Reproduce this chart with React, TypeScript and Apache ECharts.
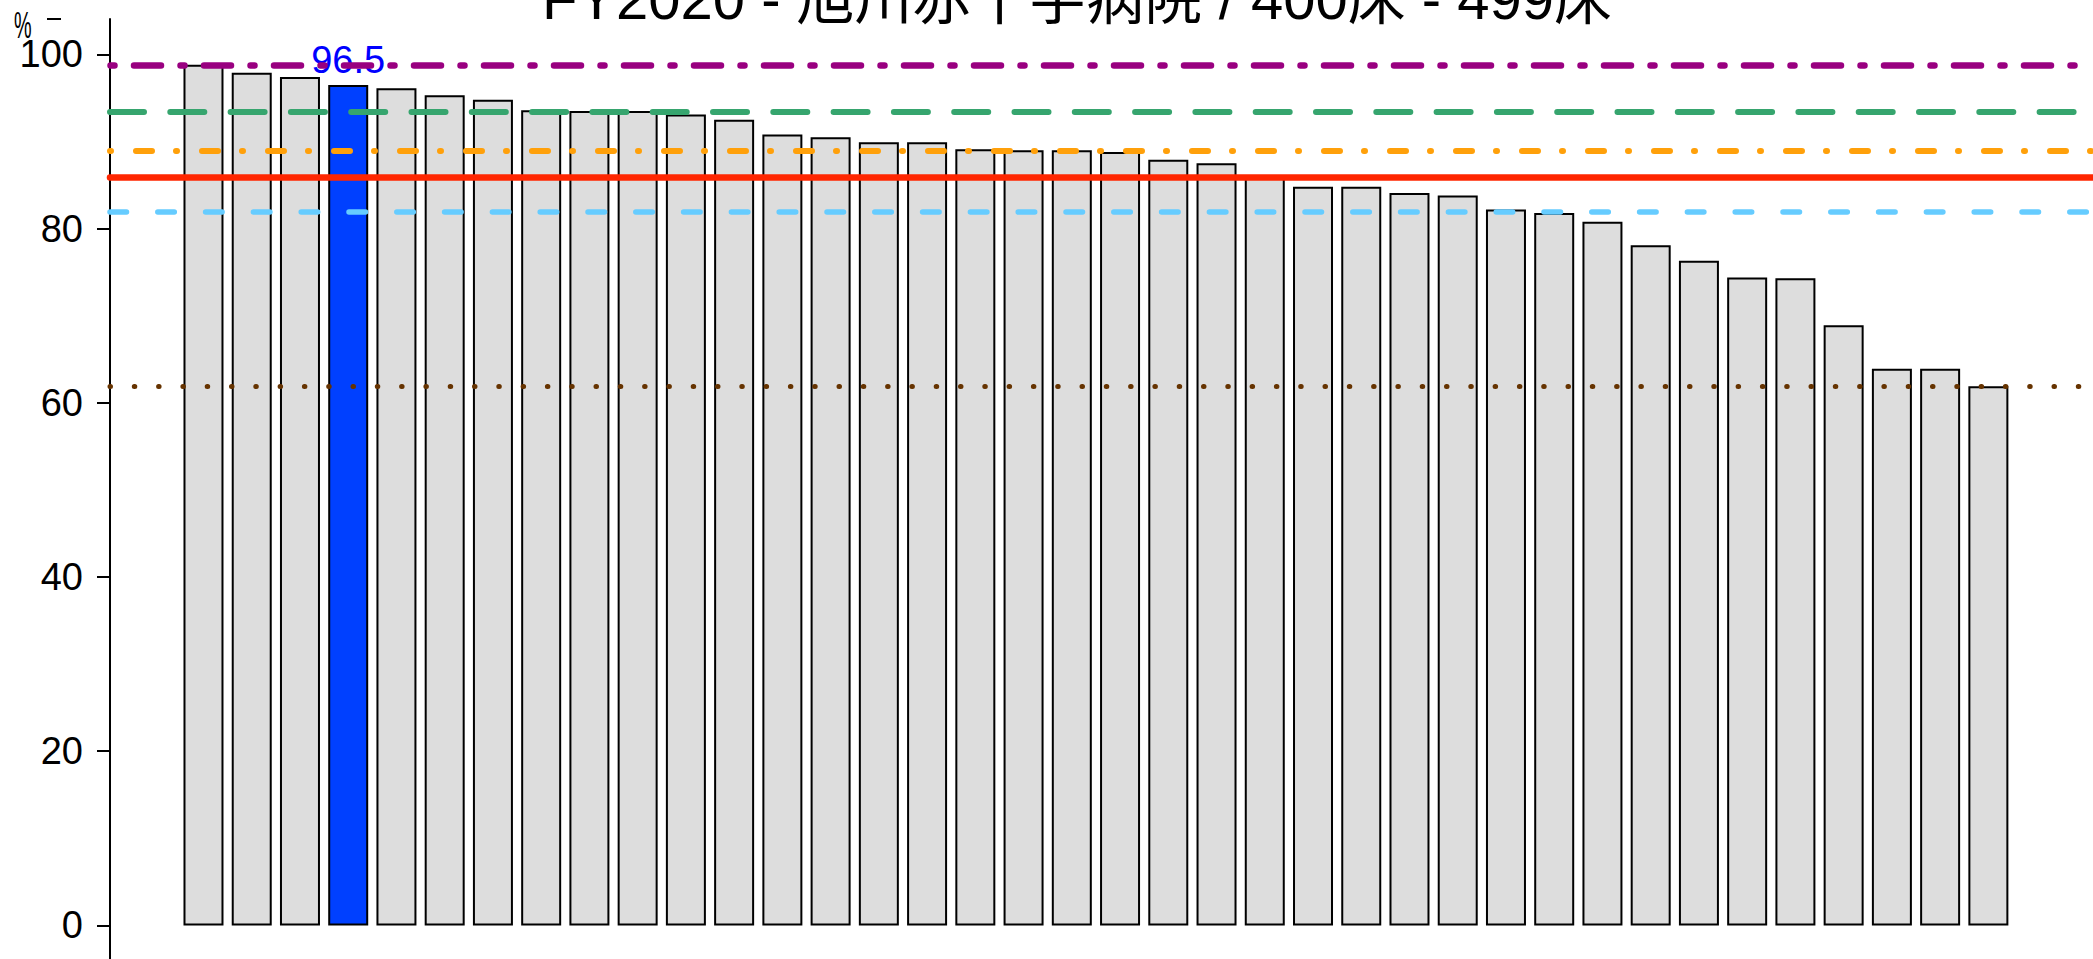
import React, { useEffect, useRef } from "react";
import * as echarts from "echarts";

const titleText = "FY2020 - 旭川赤十字病院 / 400床 - 499床";
const yUnitLabel = "%";
const hospitalRanks = [
  1, 2, 3, 4, 5, 6, 7, 8, 9, 10, 11, 12, 13, 14, 15, 16, 17, 18, 19,
  20, 21, 22, 23, 24, 25, 26, 27, 28, 29, 30, 31, 32, 33, 34, 35, 36, 37, 38,
];
const rateValues = [
  98.8, 97.9, 97.4, 96.5, 96.1, 95.3, 94.8, 93.6, 93.5, 93.5, 93.1, 92.5,
  90.8, 90.5, 89.9, 89.9, 89.1, 89.0, 89.0, 88.8, 87.9, 87.5, 85.9, 84.8,
  84.8, 84.1, 83.8, 82.2, 81.8, 80.8, 78.1, 76.3, 74.4, 74.3, 68.9, 63.9,
  63.9, 61.9,
];
const highlightRank = 4;
const yTickValues = [0, 20, 40, 60, 80, 100];
const referenceValues = [98.8, 93.4, 88.9, 85.9, 81.9, 61.9];

const referenceStyles = [
  { color: "#990080", width: 6.5, type: [27, 19.5, 4, 19.5], offset: 46 },
  { color: "#36A56E", width: 6, type: [34, 26.3], offset: 0 },
  { color: "#FFA00A", width: 6, type: [16, 24, 1, 25], offset: 39.6 },
  { color: "#FF2600", width: 6.5, type: "solid", offset: 0 },
  { color: "#66CCFF", width: 5.5, type: [16.5, 31.3], offset: 0 },
  { color: "#663300", width: 5, type: [0.5, 23.8], offset: 0 },
];

export default function App() {
  const ref = useRef<HTMLDivElement>(null);

  useEffect(() => {
    if (!ref.current) return;
    const chart = echarts.init(ref.current, null, { renderer: "svg" });

    const barData = hospitalRanks.map((r, i) => {
      const item: any = { value: [r, rateValues[i]] };
      if (r === highlightRank) {
        item.itemStyle = { color: "#0040FF" };
        item.label = {
          show: true,
          position: "top",
          distance: 6,
          color: "#0000FF",
          fontSize: 38,
          fontFamily: "Liberation Sans, Arial, sans-serif",
          formatter: (p: any) => String(p.value[1]),
        };
      }
      return item;
    });

    const option: any = {
      animation: false,
      backgroundColor: "#FFFFFF",
      grid: {
        left: 110,
        right: 0,
        top: 19,
        bottom: 0,
        containLabel: false,
        outerBoundsMode: "none",
      },
      xAxis: {
        type: "value",
        min: -0.938,
        max: 40.169,
        show: false,
      },
      yAxis: {
        type: "value",
        min: -3.857,
        max: 104.064,
        axisLine: {
          show: true,
          onZero: false,
          lineStyle: { color: "#000000", width: 2 },
        },
        axisTick: {
          show: true,
          length: 13,
          customValues: yTickValues,
          lineStyle: { color: "#000000", width: 2 },
        },
        axisLabel: {
          show: true,
          customValues: yTickValues,
          margin: 27,
          color: "#000000",
          fontSize: 38,
          fontFamily: "Liberation Sans, Arial, sans-serif",
        },
        splitLine: { show: false },
      },
      series: [
        {
          type: "bar",
          data: barData,
          barWidth: 40,
          itemStyle: { color: "#DDDDDD", borderColor: "#000000", borderWidth: 2 },
          label: { show: false },
          markLine: {
            silent: true,
            symbol: ["none", "none"],
            label: { show: false },
            animation: false,
            data: referenceValues.map((v, i) => ({
              yAxis: v,
              lineStyle: {
                color: referenceStyles[i].color,
                width: referenceStyles[i].width,
                type: referenceStyles[i].type,
                dashOffset: referenceStyles[i].offset,
                cap: "round",
                opacity: 1,
              },
            })),
          },
        },
      ],
      graphic: [
        {
          type: "text",
          x: 1077,
          y: -2,
          style: {
            text: titleText,
            fill: "#000000",
            font: "58px 'Liberation Sans', 'Noto Sans CJK JP', sans-serif",
            align: "center",
            verticalAlign: "middle",
          },
        },
        {
          type: "text",
          x: 14,
          y: 8,
          scaleX: 0.55,
          style: {
            text: yUnitLabel,
            fill: "#000000",
            font: "36px 'Liberation Sans', sans-serif",
            align: "left",
            verticalAlign: "top",
          },
        },
        {
          type: "line",
          shape: { x1: 47, y1: 19, x2: 61, y2: 19 },
          style: { stroke: "#000000", lineWidth: 2 },
        },
      ],
    };

    chart.setOption(option);
    return () => chart.dispose();
  }, []);

  return (
    <div
      ref={ref}
      style={{ position: "fixed", left: 0, top: 0, width: 2093, height: 959 }}
    />
  );
}
